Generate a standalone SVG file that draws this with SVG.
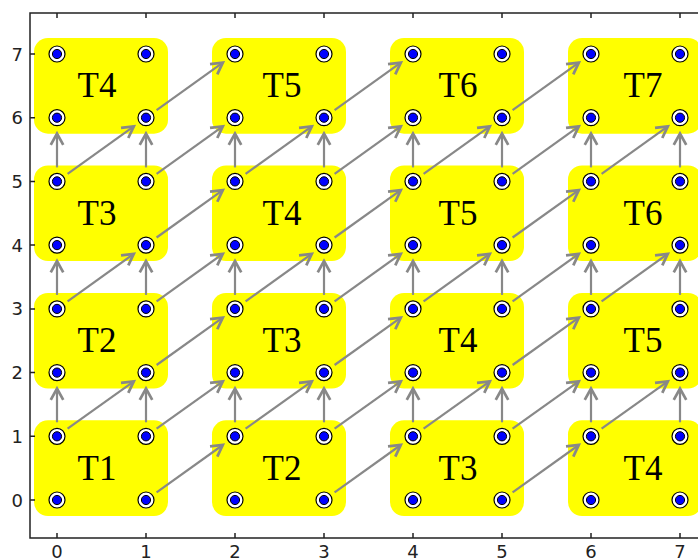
<svg xmlns="http://www.w3.org/2000/svg" xmlns:xlink="http://www.w3.org/1999/xlink" width="698" height="558" viewBox="0 0 698 558">
<style>
.tile{fill:#ffff00}
.lbl{font-family:"Liberation Serif","Times New Roman",serif;font-size:35px;fill:#000;text-anchor:middle}
.tick{font-family:"DejaVu Sans",sans-serif;font-size:18px;fill:#222}
.ax{stroke:#222;stroke-width:1.5;fill:none}
.arr{stroke:#888;stroke-width:2.2;fill:none;marker-end:url(#ah)}
</style>
<defs>
<marker id="ah" markerUnits="userSpaceOnUse" markerWidth="20" markerHeight="20" refX="0" refY="0" viewBox="-12 -8 16 16" orient="auto" overflow="visible">
<path d="M-9,-5 L0,0 L-9,5" stroke="#888" stroke-width="2.2" fill="none" stroke-linejoin="miter"/>
</marker>
<g id="pt"><circle r="8" fill="#fff" stroke="#000" stroke-width="1.2"/><circle r="4.6" fill="#0000ff" stroke="#000" stroke-width="1"/></g>
</defs>
<rect width="698" height="558" fill="#fff"/>

<g id="tiles">
<g id="tile-r3c0"><rect class="tile" x="34" y="38" width="134" height="95.7" rx="14"/><text class="lbl" x="97" y="97.3">T4</text></g>
<g id="tile-r3c1"><rect class="tile" x="212" y="38" width="134" height="95.7" rx="14"/><text class="lbl" x="282" y="97.3">T5</text></g>
<g id="tile-r3c2"><rect class="tile" x="390" y="38" width="134" height="95.7" rx="14"/><text class="lbl" x="458" y="97.3">T6</text></g>
<g id="tile-r3c3"><rect class="tile" x="568" y="38" width="134" height="95.7" rx="14"/><text class="lbl" x="643" y="97.3">T7</text></g>
<g id="tile-r2c0"><rect class="tile" x="34" y="165.4" width="134" height="95.7" rx="14"/><text class="lbl" x="97" y="224.7">T3</text></g>
<g id="tile-r2c1"><rect class="tile" x="212" y="165.4" width="134" height="95.7" rx="14"/><text class="lbl" x="282" y="224.7">T4</text></g>
<g id="tile-r2c2"><rect class="tile" x="390" y="165.4" width="134" height="95.7" rx="14"/><text class="lbl" x="458" y="224.7">T5</text></g>
<g id="tile-r2c3"><rect class="tile" x="568" y="165.4" width="134" height="95.7" rx="14"/><text class="lbl" x="643" y="224.7">T6</text></g>
<g id="tile-r1c0"><rect class="tile" x="34" y="292.9" width="134" height="95.7" rx="14"/><text class="lbl" x="97" y="352.2">T2</text></g>
<g id="tile-r1c1"><rect class="tile" x="212" y="292.9" width="134" height="95.7" rx="14"/><text class="lbl" x="282" y="352.2">T3</text></g>
<g id="tile-r1c2"><rect class="tile" x="390" y="292.9" width="134" height="95.7" rx="14"/><text class="lbl" x="458" y="352.2">T4</text></g>
<g id="tile-r1c3"><rect class="tile" x="568" y="292.9" width="134" height="95.7" rx="14"/><text class="lbl" x="643" y="352.2">T5</text></g>
<g id="tile-r0c0"><rect class="tile" x="34" y="420.3" width="134" height="95.7" rx="14"/><text class="lbl" x="97" y="479.6">T1</text></g>
<g id="tile-r0c1"><rect class="tile" x="212" y="420.3" width="134" height="95.7" rx="14"/><text class="lbl" x="282" y="479.6">T2</text></g>
<g id="tile-r0c2"><rect class="tile" x="390" y="420.3" width="134" height="95.7" rx="14"/><text class="lbl" x="458" y="479.6">T3</text></g>
<g id="tile-r0c3"><rect class="tile" x="568" y="420.3" width="134" height="95.7" rx="14"/><text class="lbl" x="643" y="479.6">T4</text></g>
</g>

<g id="connectors">
<!-- vertical -->
<line class="arr" x1="57" y1="422.3" x2="57" y2="388.6"/>
<line class="arr" x1="146" y1="422.3" x2="146" y2="388.6"/>
<line class="arr" x1="235" y1="422.3" x2="235" y2="388.6"/>
<line class="arr" x1="324" y1="422.3" x2="324" y2="388.6"/>
<line class="arr" x1="413" y1="422.3" x2="413" y2="388.6"/>
<line class="arr" x1="502" y1="422.3" x2="502" y2="388.6"/>
<line class="arr" x1="591" y1="422.3" x2="591" y2="388.6"/>
<line class="arr" x1="680" y1="422.3" x2="680" y2="388.6"/>
<line class="arr" x1="57" y1="294.9" x2="57" y2="261.1"/>
<line class="arr" x1="146" y1="294.9" x2="146" y2="261.1"/>
<line class="arr" x1="235" y1="294.9" x2="235" y2="261.1"/>
<line class="arr" x1="324" y1="294.9" x2="324" y2="261.1"/>
<line class="arr" x1="413" y1="294.9" x2="413" y2="261.1"/>
<line class="arr" x1="502" y1="294.9" x2="502" y2="261.1"/>
<line class="arr" x1="591" y1="294.9" x2="591" y2="261.1"/>
<line class="arr" x1="680" y1="294.9" x2="680" y2="261.1"/>
<line class="arr" x1="57" y1="167.4" x2="57" y2="133.7"/>
<line class="arr" x1="146" y1="167.4" x2="146" y2="133.7"/>
<line class="arr" x1="235" y1="167.4" x2="235" y2="133.7"/>
<line class="arr" x1="324" y1="167.4" x2="324" y2="133.7"/>
<line class="arr" x1="413" y1="167.4" x2="413" y2="133.7"/>
<line class="arr" x1="502" y1="167.4" x2="502" y2="133.7"/>
<line class="arr" x1="591" y1="167.4" x2="591" y2="133.7"/>
<line class="arr" x1="680" y1="167.4" x2="680" y2="133.7"/>
<!-- diagonal y=0 (odd x) -->
<line class="arr" x1="156.6" y1="492.4" x2="222.8" y2="445.0"/>
<line class="arr" x1="334.6" y1="492.4" x2="400.8" y2="445.0"/>
<line class="arr" x1="512.6" y1="492.4" x2="578.8" y2="445.0"/>
<!-- diagonal y=1 -->
<line class="arr" x1="67.6" y1="428.7" x2="133.8" y2="381.3"/>
<line class="arr" x1="156.6" y1="428.7" x2="222.8" y2="381.3"/>
<line class="arr" x1="245.6" y1="428.7" x2="311.8" y2="381.3"/>
<line class="arr" x1="334.6" y1="428.7" x2="400.8" y2="381.3"/>
<line class="arr" x1="423.6" y1="428.7" x2="489.8" y2="381.3"/>
<line class="arr" x1="512.6" y1="428.7" x2="578.8" y2="381.3"/>
<line class="arr" x1="601.6" y1="428.7" x2="667.8" y2="381.3"/>
<!-- diagonal y=2 -->
<line class="arr" x1="156.6" y1="365.0" x2="222.8" y2="317.6"/>
<line class="arr" x1="334.6" y1="365.0" x2="400.8" y2="317.6"/>
<line class="arr" x1="512.6" y1="365.0" x2="578.8" y2="317.6"/>
<!-- diagonal y=3 -->
<line class="arr" x1="67.6" y1="301.3" x2="133.8" y2="253.8"/>
<line class="arr" x1="156.6" y1="301.3" x2="222.8" y2="253.8"/>
<line class="arr" x1="245.6" y1="301.3" x2="311.8" y2="253.8"/>
<line class="arr" x1="334.6" y1="301.3" x2="400.8" y2="253.8"/>
<line class="arr" x1="423.6" y1="301.3" x2="489.8" y2="253.8"/>
<line class="arr" x1="512.6" y1="301.3" x2="578.8" y2="253.8"/>
<line class="arr" x1="601.6" y1="301.3" x2="667.8" y2="253.8"/>
<!-- diagonal y=4 -->
<line class="arr" x1="156.6" y1="237.5" x2="222.8" y2="190.1"/>
<line class="arr" x1="334.6" y1="237.5" x2="400.8" y2="190.1"/>
<line class="arr" x1="512.6" y1="237.5" x2="578.8" y2="190.1"/>
<!-- diagonal y=5 -->
<line class="arr" x1="67.6" y1="173.8" x2="133.8" y2="126.4"/>
<line class="arr" x1="156.6" y1="173.8" x2="222.8" y2="126.4"/>
<line class="arr" x1="245.6" y1="173.8" x2="311.8" y2="126.4"/>
<line class="arr" x1="334.6" y1="173.8" x2="400.8" y2="126.4"/>
<line class="arr" x1="423.6" y1="173.8" x2="489.8" y2="126.4"/>
<line class="arr" x1="512.6" y1="173.8" x2="578.8" y2="126.4"/>
<line class="arr" x1="601.6" y1="173.8" x2="667.8" y2="126.4"/>
<!-- diagonal y=6 -->
<line class="arr" x1="156.6" y1="110.1" x2="222.8" y2="62.7"/>
<line class="arr" x1="334.6" y1="110.1" x2="400.8" y2="62.7"/>
<line class="arr" x1="512.6" y1="110.1" x2="578.8" y2="62.7"/>
</g>

<g id="points">
<g id="p0-0"><use xlink:href="#pt" x="57" y="500"/></g><g id="p1-0"><use xlink:href="#pt" x="146" y="500"/></g><g id="p2-0"><use xlink:href="#pt" x="235" y="500"/></g><g id="p3-0"><use xlink:href="#pt" x="324" y="500"/></g><g id="p4-0"><use xlink:href="#pt" x="413" y="500"/></g><g id="p5-0"><use xlink:href="#pt" x="502" y="500"/></g><g id="p6-0"><use xlink:href="#pt" x="591" y="500"/></g><g id="p7-0"><use xlink:href="#pt" x="680" y="500"/></g>
<g id="p0-1"><use xlink:href="#pt" x="57" y="436.3"/></g><g id="p1-1"><use xlink:href="#pt" x="146" y="436.3"/></g><g id="p2-1"><use xlink:href="#pt" x="235" y="436.3"/></g><g id="p3-1"><use xlink:href="#pt" x="324" y="436.3"/></g><g id="p4-1"><use xlink:href="#pt" x="413" y="436.3"/></g><g id="p5-1"><use xlink:href="#pt" x="502" y="436.3"/></g><g id="p6-1"><use xlink:href="#pt" x="591" y="436.3"/></g><g id="p7-1"><use xlink:href="#pt" x="680" y="436.3"/></g>
<g id="p0-2"><use xlink:href="#pt" x="57" y="372.6"/></g><g id="p1-2"><use xlink:href="#pt" x="146" y="372.6"/></g><g id="p2-2"><use xlink:href="#pt" x="235" y="372.6"/></g><g id="p3-2"><use xlink:href="#pt" x="324" y="372.6"/></g><g id="p4-2"><use xlink:href="#pt" x="413" y="372.6"/></g><g id="p5-2"><use xlink:href="#pt" x="502" y="372.6"/></g><g id="p6-2"><use xlink:href="#pt" x="591" y="372.6"/></g><g id="p7-2"><use xlink:href="#pt" x="680" y="372.6"/></g>
<g id="p0-3"><use xlink:href="#pt" x="57" y="308.9"/></g><g id="p1-3"><use xlink:href="#pt" x="146" y="308.9"/></g><g id="p2-3"><use xlink:href="#pt" x="235" y="308.9"/></g><g id="p3-3"><use xlink:href="#pt" x="324" y="308.9"/></g><g id="p4-3"><use xlink:href="#pt" x="413" y="308.9"/></g><g id="p5-3"><use xlink:href="#pt" x="502" y="308.9"/></g><g id="p6-3"><use xlink:href="#pt" x="591" y="308.9"/></g><g id="p7-3"><use xlink:href="#pt" x="680" y="308.9"/></g>
<g id="p0-4"><use xlink:href="#pt" x="57" y="245.1"/></g><g id="p1-4"><use xlink:href="#pt" x="146" y="245.1"/></g><g id="p2-4"><use xlink:href="#pt" x="235" y="245.1"/></g><g id="p3-4"><use xlink:href="#pt" x="324" y="245.1"/></g><g id="p4-4"><use xlink:href="#pt" x="413" y="245.1"/></g><g id="p5-4"><use xlink:href="#pt" x="502" y="245.1"/></g><g id="p6-4"><use xlink:href="#pt" x="591" y="245.1"/></g><g id="p7-4"><use xlink:href="#pt" x="680" y="245.1"/></g>
<g id="p0-5"><use xlink:href="#pt" x="57" y="181.4"/></g><g id="p1-5"><use xlink:href="#pt" x="146" y="181.4"/></g><g id="p2-5"><use xlink:href="#pt" x="235" y="181.4"/></g><g id="p3-5"><use xlink:href="#pt" x="324" y="181.4"/></g><g id="p4-5"><use xlink:href="#pt" x="413" y="181.4"/></g><g id="p5-5"><use xlink:href="#pt" x="502" y="181.4"/></g><g id="p6-5"><use xlink:href="#pt" x="591" y="181.4"/></g><g id="p7-5"><use xlink:href="#pt" x="680" y="181.4"/></g>
<g id="p0-6"><use xlink:href="#pt" x="57" y="117.7"/></g><g id="p1-6"><use xlink:href="#pt" x="146" y="117.7"/></g><g id="p2-6"><use xlink:href="#pt" x="235" y="117.7"/></g><g id="p3-6"><use xlink:href="#pt" x="324" y="117.7"/></g><g id="p4-6"><use xlink:href="#pt" x="413" y="117.7"/></g><g id="p5-6"><use xlink:href="#pt" x="502" y="117.7"/></g><g id="p6-6"><use xlink:href="#pt" x="591" y="117.7"/></g><g id="p7-6"><use xlink:href="#pt" x="680" y="117.7"/></g>
<g id="p0-7"><use xlink:href="#pt" x="57" y="54"/></g><g id="p1-7"><use xlink:href="#pt" x="146" y="54"/></g><g id="p2-7"><use xlink:href="#pt" x="235" y="54"/></g><g id="p3-7"><use xlink:href="#pt" x="324" y="54"/></g><g id="p4-7"><use xlink:href="#pt" x="413" y="54"/></g><g id="p5-7"><use xlink:href="#pt" x="502" y="54"/></g><g id="p6-7"><use xlink:href="#pt" x="591" y="54"/></g><g id="p7-7"><use xlink:href="#pt" x="680" y="54"/></g>
</g>

<g id="axes">
<path class="ax" d="M698,13 H30 V538 H698"/>
<path class="ax" d="M57,538 v-5 M146,538 v-5 M235,538 v-5 M324,538 v-5 M413,538 v-5 M502,538 v-5 M591,538 v-5 M680,538 v-5 M57,13 v5 M146,13 v5 M235,13 v5 M324,13 v5 M413,13 v5 M502,13 v5 M591,13 v5 M680,13 v5 M30,500 h5 M30,436.3 h5 M30,372.6 h5 M30,308.9 h5 M30,245.1 h5 M30,181.4 h5 M30,117.7 h5 M30,54 h5"/>
<g class="tick" text-anchor="middle">
<text x="57" y="558">0</text><text x="146" y="558">1</text><text x="235" y="558">2</text><text x="324" y="558">3</text><text x="413" y="558">4</text><text x="502" y="558">5</text><text x="591" y="558">6</text><text x="680" y="558">7</text>
</g>
<g class="tick" text-anchor="end">
<text x="23" y="506.5">0</text><text x="23" y="442.8">1</text><text x="23" y="379.1">2</text><text x="23" y="315.4">3</text><text x="23" y="251.6">4</text><text x="23" y="187.9">5</text><text x="23" y="124.2">6</text><text x="23" y="60.5">7</text>
</g>
</g>
</svg>
